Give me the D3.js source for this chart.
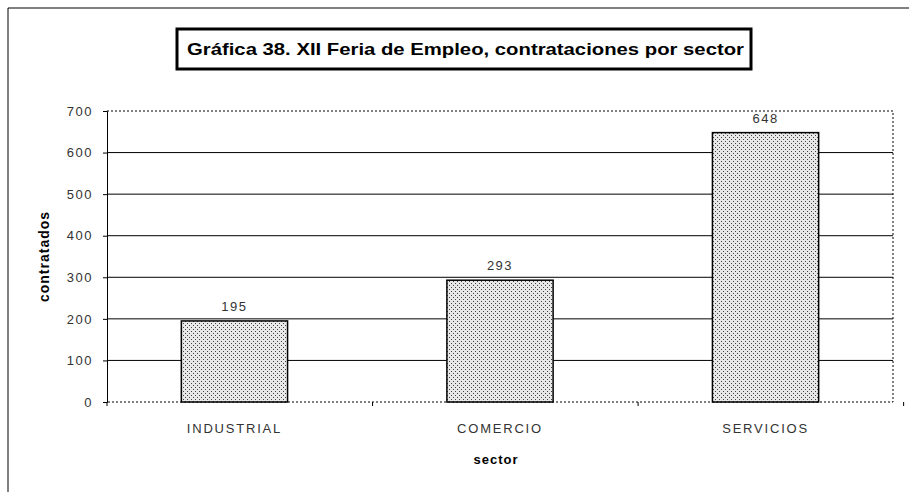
<!DOCTYPE html>
<html>
<head>
<meta charset="utf-8">
<script src="https://cdn.jsdelivr.net/npm/d3@7"></script>
<style>
  body { margin: 0; background: #fff; }
  svg { display: block; font-family: "Liberation Sans", Arial, sans-serif; }
  .tick text { fill: #333; font-size: 13px; letter-spacing: 1.5px; }
</style>
</head>
<body>
<div class="chart"></div>
<script>
// data
var sectors = ["INDUSTRIAL", "COMERCIO", "SERVICIOS"];
var contratados = [195, 293, 648];
var yTicks = [0, 100, 200, 300, 400, 500, 600, 700];

var width = 909, height = 492;
var margin = {left: 107, right: 16, top: 111, bottom: 90};
var plotW = width - margin.left - margin.right,
    plotH = height - margin.top - margin.bottom;

var svg = d3.select(".chart").append("svg")
  .attr("width", width)
  .attr("height", height);

// stipple pattern for the bars
var defs = svg.append("defs");
var pat = defs.append("pattern")
  .attr("id", "dots")
  .attr("patternUnits", "userSpaceOnUse")
  .attr("width", 4).attr("height", 4);
pat.append("rect").attr("width", 4).attr("height", 4).attr("fill", "#e8e8e8");
pat.append("rect").attr("x", 0).attr("y", 0).attr("width", 1).attr("height", 1).attr("fill", "#444");
pat.append("rect").attr("x", 2).attr("y", 2).attr("width", 1).attr("height", 1).attr("fill", "#444");

// outer frame (top + left)
svg.append("path")
  .attr("d", "M8," + height + "V8H" + width)
  .attr("fill", "none")
  .attr("stroke", "#000")
  .attr("stroke-width", 1);

// title box
svg.append("rect")
  .attr("x", 177).attr("y", 29)
  .attr("width", 574).attr("height", 40)
  .attr("fill", "#fff")
  .attr("stroke", "#000")
  .attr("stroke-width", 3);
svg.append("text")
  .attr("x", 187).attr("y", 55)
  .attr("textLength", 557)
  .attr("lengthAdjust", "spacingAndGlyphs")
  .style("font-size", "17px")
  .style("font-weight", "bold")
  .text("Gráfica 38. XII Feria de Empleo, contrataciones por sector");

var g = svg.append("g")
  .attr("transform", "translate(" + margin.left + "," + margin.top + ")");

var x = d3.scaleBand()
  .domain(sectors)
  .range([0, plotW])
  .paddingInner(0.6)
  .paddingOuter(0.28);

var y = d3.scaleLinear()
  .domain([0, 700])
  .range([plotH, 0]);

// gridlines
g.append("g").selectAll("line")
  .data(yTicks.filter(function(d) { return d > 0 && d < 700; }))
  .enter().append("line")
  .attr("x1", 0).attr("x2", plotW)
  .attr("y1", function(d) { return y(d); })
  .attr("y2", function(d) { return y(d); })
  .attr("stroke", "#000")
  .attr("stroke-width", 1);

// dotted plot border (top, right, bottom)
g.append("path")
  .attr("d", "M0,0H" + plotW + "V" + plotH + "H0")
  .attr("fill", "none")
  .attr("stroke", "#000")
  .attr("stroke-width", 1)
  .attr("stroke-dasharray", "2,2");

// bars
g.selectAll(".bar")
  .data(contratados)
  .enter().append("rect")
  .attr("class", "bar")
  .attr("x", function(d, i) { return x(sectors[i]); })
  .attr("y", function(d) { return y(d); })
  .attr("width", x.bandwidth())
  .attr("height", function(d) { return plotH - y(d); })
  .attr("fill", "url(#dots)")
  .attr("stroke", "#000")
  .attr("stroke-width", 1.5);

// value labels
g.selectAll(".val")
  .data(contratados)
  .enter().append("text")
  .attr("class", "val")
  .attr("x", function(d, i) { return x(sectors[i]) + x.bandwidth() / 2; })
  .attr("y", function(d) { return y(d) - 10; })
  .attr("text-anchor", "middle")
  .style("font-size", "13px")
  .style("letter-spacing", "1.5px")
  .attr("fill", "#333")
  .text(function(d) { return d; });

// y axis
var yAxis = d3.axisLeft(y).tickValues(yTicks).tickSize(4).tickPadding(10);
var yG = g.append("g").call(yAxis);
yG.select(".domain").attr("stroke", "#000");

// x axis: ticks between categories
var xAxis = d3.axisBottom(x).tickSize(0).tickPadding(22);
var xG = g.append("g")
  .attr("transform", "translate(0," + plotH + ")")
  .call(xAxis);
xG.select(".domain").remove();
xG.selectAll(".tick text").style("letter-spacing", "1.8px");
xG.selectAll(".sep")
  .data(d3.range(sectors.length + 1))
  .enter().append("line")
  .attr("class", "sep")
  .attr("x1", function(i) { return i * x.step(); })
  .attr("x2", function(i) { return i * x.step(); })
  .attr("y1", 0).attr("y2", 4)
  .attr("stroke", "#000");

// axis titles
svg.append("text")
  .attr("transform", "translate(49," + (margin.top + plotH / 2) + ") rotate(-90)")
  .attr("text-anchor", "middle")
  .style("font-size", "14px")
  .style("font-weight", "bold")
  .style("letter-spacing", "1px")
  .text("contratados");

svg.append("text")
  .attr("x", margin.left + plotW / 2 - 4)
  .attr("y", 464)
  .attr("text-anchor", "middle")
  .style("font-size", "13px")
  .style("font-weight", "bold")
  .style("letter-spacing", "1px")
  .text("sector");
</script>
</body>
</html>
